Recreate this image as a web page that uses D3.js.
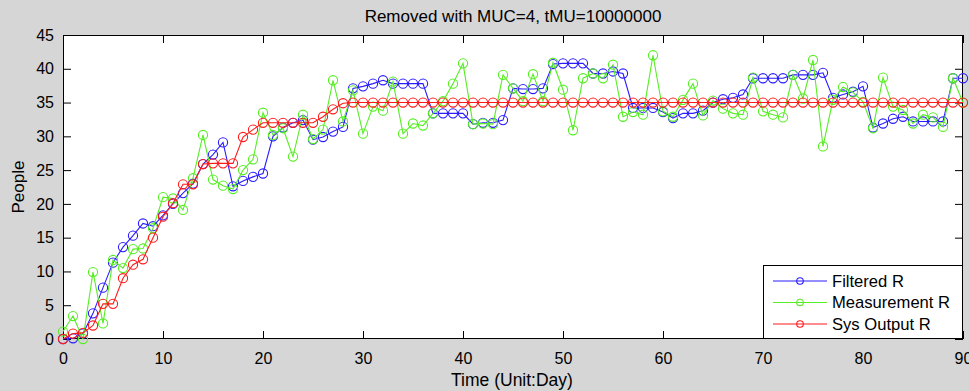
<!DOCTYPE html>
<html>
<head>
<meta charset="utf-8">
<script src="https://cdn.jsdelivr.net/npm/d3@7"></script>
<style>
  html, body { margin: 0; padding: 0; background: #d6d6d6; }
  svg { display: block; font-family: "Liberation Sans", Arial, sans-serif; }
</style>
</head>
<body>
<svg id="chart" width="969" height="391"></svg>
<script>
const days = d3.range(0, 91);
const filteredR = [
  0, 0.1, 0.8, 3.8, 7.6, 11.3, 13.6, 15.3, 17.1, 16.7,
  18.3, 20.0, 21.6, 23.0, 25.9, 27.3, 29.1, 22.6, 23.4, 24.0,
  24.5, 30.0, 31.3, 32.0, 32.4, 29.5, 29.9, 30.7, 31.4, 37.1,
  37.4, 37.8, 38.3, 37.8, 37.8, 37.8, 37.8, 33.4, 33.4, 33.4,
  33.4, 31.8, 32.0, 32.0, 32.4, 37.1, 37.0, 37.0, 37.1, 40.7,
  40.8, 40.8, 40.8, 39.3, 39.3, 39.6, 39.3, 34.2, 34.2, 34.2,
  33.6, 32.7, 33.4, 33.4, 33.8, 35.0, 35.5, 35.7, 36.2, 38.6,
  38.6, 38.6, 38.6, 39.1, 39.1, 39.1, 39.4, 35.7, 36.2, 36.6,
  37.4, 31.3, 31.9, 32.6, 32.9, 32.2, 32.2, 32.2, 32.2, 38.6, 38.6
];
const measurementR = [
  1.1, 3.4, 0, 9.9, 2.3, 11.7, 10.5, 13.3, 13.4, 16.4,
  21.0, 20.8, 19.1, 23.8, 30.2, 23.6, 22.7, 22.2, 25.0, 26.6,
  33.5, 30.2, 31.2, 27.0, 33.2, 29.6, 31.0, 38.3, 32.2, 36.8,
  30.4, 34.4, 33.8, 38.1, 30.4, 31.9, 31.6, 33.4, 35.2, 37.8,
  40.8, 31.8, 31.9, 31.8, 39.1, 37.1, 35.2, 39.2, 35.2, 40.9,
  36.9, 30.9, 38.6, 39.3, 38.6, 40.6, 32.9, 33.6, 33.2, 42.0,
  33.7, 32.9, 35.4, 37.8, 33.1, 35.3, 34.1, 33.4, 33.2, 38.7,
  33.7, 33.2, 32.8, 39.1, 35.6, 41.3, 28.5, 35.4, 37.3, 36.5,
  35.1, 31.2, 38.7, 34.4, 33.9, 31.9, 33.2, 32.8, 31.4, 38.6, 35.0
];
const sysOutputR = [
  0, 0.8, 0.9, 2.0, 5.2, 5.2, 9.0, 11.0, 11.8, 15.0,
  18.1, 20.1, 22.9, 22.9, 25.9, 26.0, 26.0, 26.0, 29.9, 31.0,
  32.0, 32.0, 32.0, 32.0, 32.0, 32.0, 32.9, 34.0, 34.9, 35,
  35, 35, 35, 35, 35, 35, 35, 35, 35, 35,
  35, 35, 35, 35, 35, 35, 35, 35, 35, 35,
  35, 35, 35, 35, 35, 35, 35, 35, 35, 35,
  35, 35, 35, 35, 35, 35, 35, 35, 35, 35,
  35, 35, 35, 35, 35, 35, 35, 35, 35, 35,
  35, 35, 35, 35, 35, 35, 35, 35, 35, 35, 35
];
const xTicks = [0, 10, 20, 30, 40, 50, 60, 70, 80, 90];
const yTicks = [0, 5, 10, 15, 20, 25, 30, 35, 40, 45];
const seriesNames = ["Filtered R", "Measurement R", "Sys Output R"];
const seriesColors = ["#2a1cff", "#55ee22", "#ff1a1a"];
const titleText = "Removed with MUC=4, tMU=10000000";
const xLabel = "Time (Unit:Day)";
const yLabel = "People";

const svg = d3.select("#chart");
const L = 63, R = 963, T = 35, B = 339;
const x = d3.scaleLinear().domain([0, 90]).range([L, R]);
const y = d3.scaleLinear().domain([0, 45]).range([B, T]);
const fs = 16;

svg.append("rect").attr("x", 0).attr("y", 0).attr("width", 969).attr("height", 391).attr("fill", "#d6d6d6");
svg.append("rect").attr("x", L).attr("y", T).attr("width", R - L).attr("height", B - T).attr("fill", "#fff");

const tickLen = 8;
const xAxis = d3.axisBottom(x).tickValues(xTicks).tickSizeInner(-tickLen).tickSizeOuter(0).tickPadding(14);
const gx = svg.append("g").attr("transform", `translate(0,${B})`).call(xAxis);
const gxt = svg.append("g").attr("transform", `translate(0,${T})`).call(d3.axisTop(x).tickValues(xTicks).tickSizeInner(-tickLen).tickSizeOuter(0).tickFormat(""));
const yAxis = d3.axisLeft(y).tickValues(yTicks).tickSizeInner(-tickLen).tickSizeOuter(0).tickPadding(14);
const gy = svg.append("g").attr("transform", `translate(${L},0)`).call(yAxis);
const gyr = svg.append("g").attr("transform", `translate(${R},0)`).call(d3.axisRight(y).tickValues(yTicks).tickSizeInner(-tickLen).tickSizeOuter(0).tickFormat(""));
[gx, gxt, gy, gyr].forEach(g => {
  g.select(".domain").remove();
  g.selectAll("line").attr("stroke", "#000").attr("stroke-width", 1);
  g.selectAll("text").attr("fill", "#000").attr("font-size", fs).attr("font-family", "Liberation Sans, Arial, sans-serif");
});
gy.selectAll("text").attr("dx", "5");

svg.append("rect").attr("x", L + 0.5).attr("y", T + 0.5).attr("width", R - L - 1).attr("height", B - T - 1)
  .attr("fill", "none").attr("stroke", "#000").attr("stroke-width", 1);

const allSeries = [filteredR, measurementR, sysOutputR];
const line = d3.line().x((d, i) => x(days[i])).y(d => y(d));
allSeries.forEach((vals, k) => {
  const g = svg.append("g");
  g.append("path").attr("d", line(vals)).attr("fill", "none").attr("stroke", seriesColors[k]).attr("stroke-width", 1.1);
  g.selectAll("circle").data(vals).join("circle")
    .attr("cx", (d, i) => x(days[i])).attr("cy", d => y(d)).attr("r", 4.6)
    .attr("fill", "none").attr("stroke", seriesColors[k]).attr("stroke-width", 1.1);
});

svg.append("text").attr("x", (L + R) / 2).attr("y", 22).attr("text-anchor", "middle")
  .attr("font-size", 17).attr("fill", "#000").text(titleText);
svg.append("text").attr("x", (L + R) / 2 - 1).attr("y", 386).attr("text-anchor", "middle")
  .attr("font-size", 17.5).attr("fill", "#000").text(xLabel);
svg.append("text").attr("transform", `translate(24,${(T + B) / 2}) rotate(-90)`).attr("text-anchor", "middle")
  .attr("font-size", 17).attr("fill", "#000").text(yLabel);

const lg = svg.append("g");
lg.append("rect").attr("x", 763.5).attr("y", 265.5).attr("width", 199).attr("height", 73)
  .attr("fill", "#fff").attr("stroke", "#000").attr("stroke-width", 1);
const rowY = [281, 302.5, 324];
seriesNames.forEach((name, k) => {
  lg.append("line").attr("x1", 773).attr("x2", 827).attr("y1", rowY[k]).attr("y2", rowY[k])
    .attr("stroke", seriesColors[k]).attr("stroke-width", 1.1);
  lg.append("circle").attr("cx", 800).attr("cy", rowY[k]).attr("r", 3.3)
    .attr("fill", "none").attr("stroke", seriesColors[k]).attr("stroke-width", 1.1);
  lg.append("text").attr("x", 832).attr("y", rowY[k] + 5.5).attr("font-size", 16.6).attr("fill", "#000").text(name);
});
</script>
</body>
</html>
